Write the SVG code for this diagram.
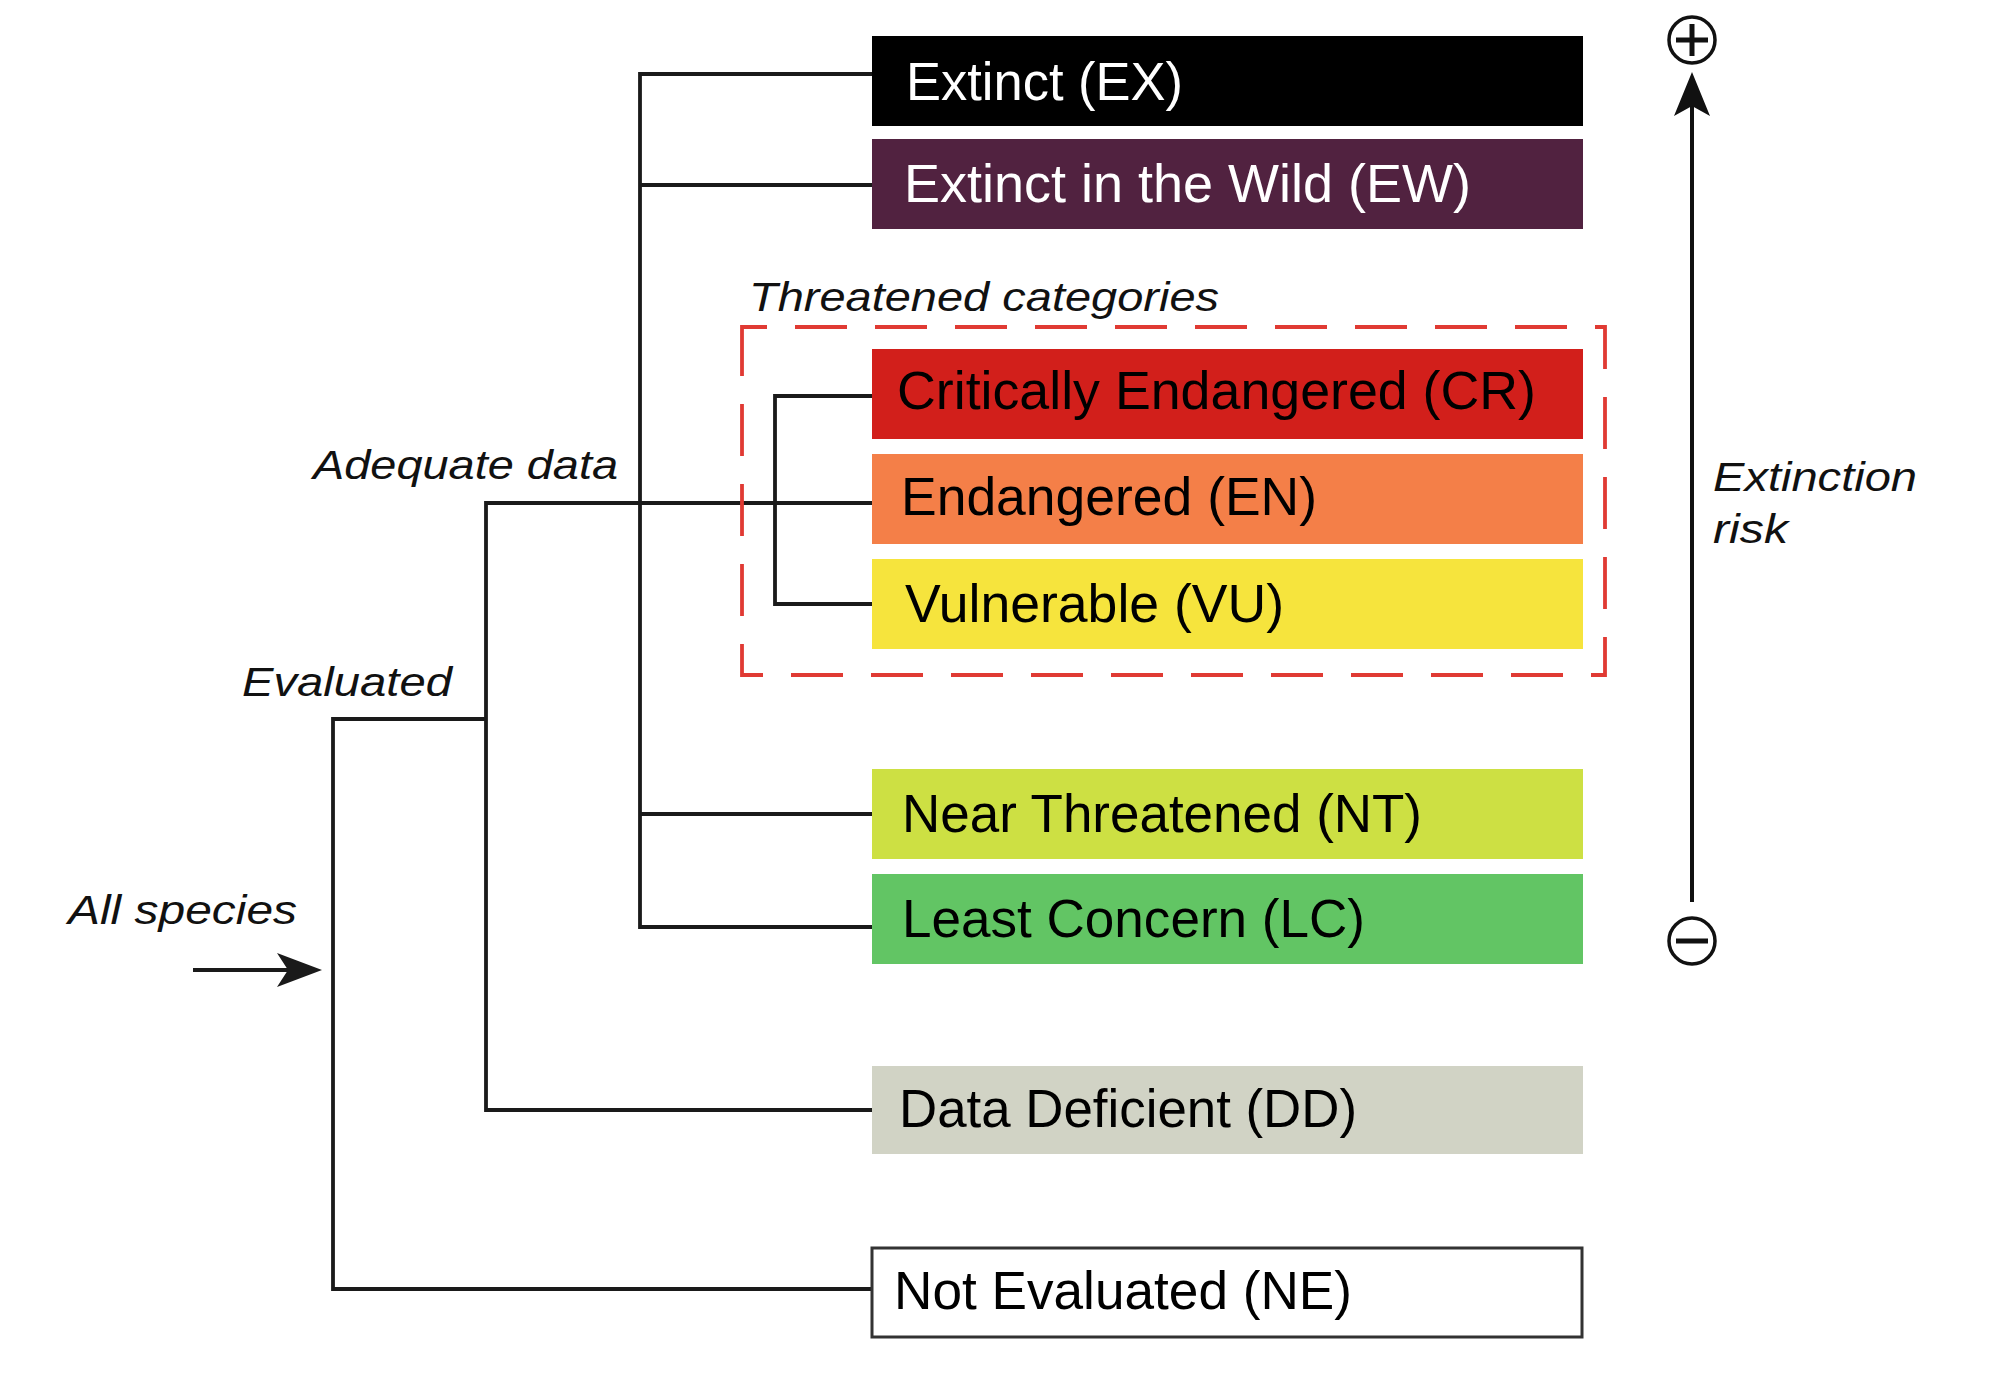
<svg xmlns="http://www.w3.org/2000/svg" width="2000" height="1380" viewBox="0 0 2000 1380">
<defs>
<style>
.box text{font-family:"Liberation Sans",Arial,sans-serif;font-size:54px;}
.lbl{font-family:"Liberation Sans",Arial,sans-serif;font-size:40px;font-style:italic;fill:#111;}
.conn{stroke:#1a1a1a;stroke-width:3.8;fill:none;}
</style>
</defs>
<rect width="2000" height="1380" fill="#ffffff"/>

<g id="connectors">
<path class="conn" d="M872,74 H640 V927 H872"/>
<path class="conn" d="M640,185 H872"/>
<path class="conn" d="M640,814 H872"/>
<path class="conn" d="M872,396 H775 V604 H872"/>
<path class="conn" d="M872,503 H486 V1110 H872"/>
<path class="conn" d="M486,719 H333 V1289 H872"/>
<line class="conn" x1="193" y1="970" x2="290" y2="970"/>
<polygon points="322,970 277,953 288,970 277,987" fill="#1a1a1a"/>
</g>

<g id="threatened-group">
<rect x="742" y="327" width="863" height="348" fill="none" stroke="#e03a33" stroke-width="3.8" stroke-dasharray="52 28" stroke-dashoffset="27"/>
<text class="lbl" x="749" y="311" textLength="470" lengthAdjust="spacingAndGlyphs">Threatened categories</text>
</g>

<g id="node-EX" class="box">
<rect x="872" y="36" width="711" height="90" fill="#000000"/>
<text x="906" y="100" fill="#ffffff" textLength="277" lengthAdjust="spacingAndGlyphs">Extinct (EX)</text>
</g>
<g id="node-EW" class="box">
<rect x="872" y="139" width="711" height="90" fill="#512240"/>
<text x="904" y="202" fill="#ffffff" textLength="567" lengthAdjust="spacingAndGlyphs">Extinct in the Wild (EW)</text>
</g>
<g id="node-CR" class="box">
<rect x="872" y="349" width="711" height="90" fill="#d21f1b"/>
<text x="897" y="409" fill="#000000" textLength="639" lengthAdjust="spacingAndGlyphs">Critically Endangered (CR)</text>
</g>
<g id="node-EN" class="box">
<rect x="872" y="454" width="711" height="90" fill="#f47f48"/>
<text x="901" y="515" fill="#000000" textLength="416" lengthAdjust="spacingAndGlyphs">Endangered (EN)</text>
</g>
<g id="node-VU" class="box">
<rect x="872" y="559" width="711" height="90" fill="#f6e43d"/>
<text x="905" y="622" fill="#000000" textLength="379" lengthAdjust="spacingAndGlyphs">Vulnerable (VU)</text>
</g>
<g id="node-NT" class="box">
<rect x="872" y="769" width="711" height="90" fill="#cde043"/>
<text x="902" y="832" fill="#000000" textLength="520" lengthAdjust="spacingAndGlyphs">Near Threatened (NT)</text>
</g>
<g id="node-LC" class="box">
<rect x="872" y="874" width="711" height="90" fill="#62c564"/>
<text x="902" y="937" fill="#000000" textLength="463" lengthAdjust="spacingAndGlyphs">Least Concern (LC)</text>
</g>
<g id="node-DD" class="box">
<rect x="872" y="1066" width="711" height="88" fill="#d1d3c5"/>
<text x="899" y="1127" fill="#000000" textLength="458" lengthAdjust="spacingAndGlyphs">Data Deficient (DD)</text>
</g>
<g id="node-NE" class="box">
<rect x="872" y="1248" width="710" height="89" fill="#ffffff" stroke="#333333" stroke-width="3"/>
<text x="894" y="1309" fill="#000000" textLength="458" lengthAdjust="spacingAndGlyphs">Not Evaluated (NE)</text>
</g>

<g id="labels">
<text class="lbl" x="313" y="479" textLength="305" lengthAdjust="spacingAndGlyphs">Adequate data</text>
<text class="lbl" x="242" y="696" textLength="210" lengthAdjust="spacingAndGlyphs">Evaluated</text>
<text class="lbl" x="68" y="924" textLength="229" lengthAdjust="spacingAndGlyphs">All species</text>
</g>

<g id="risk-axis">
<line x1="1692" y1="902" x2="1692" y2="105" stroke="#111" stroke-width="4"/>
<polygon points="1692,72 1710,116 1692,106 1674,116" fill="#111"/>
<circle cx="1692" cy="40" r="23" fill="none" stroke="#111" stroke-width="3.5"/>
<path d="M1676,40 H1708 M1692,24 V56" stroke="#111" stroke-width="5"/>
<circle cx="1692" cy="941" r="23" fill="none" stroke="#111" stroke-width="3.5"/>
<path d="M1676,941 H1708" stroke="#111" stroke-width="5"/>
<text class="lbl" x="1713" y="491" textLength="204" lengthAdjust="spacingAndGlyphs">Extinction</text>
<text class="lbl" x="1713" y="543" textLength="75" lengthAdjust="spacingAndGlyphs">risk</text>
</g>
</svg>
